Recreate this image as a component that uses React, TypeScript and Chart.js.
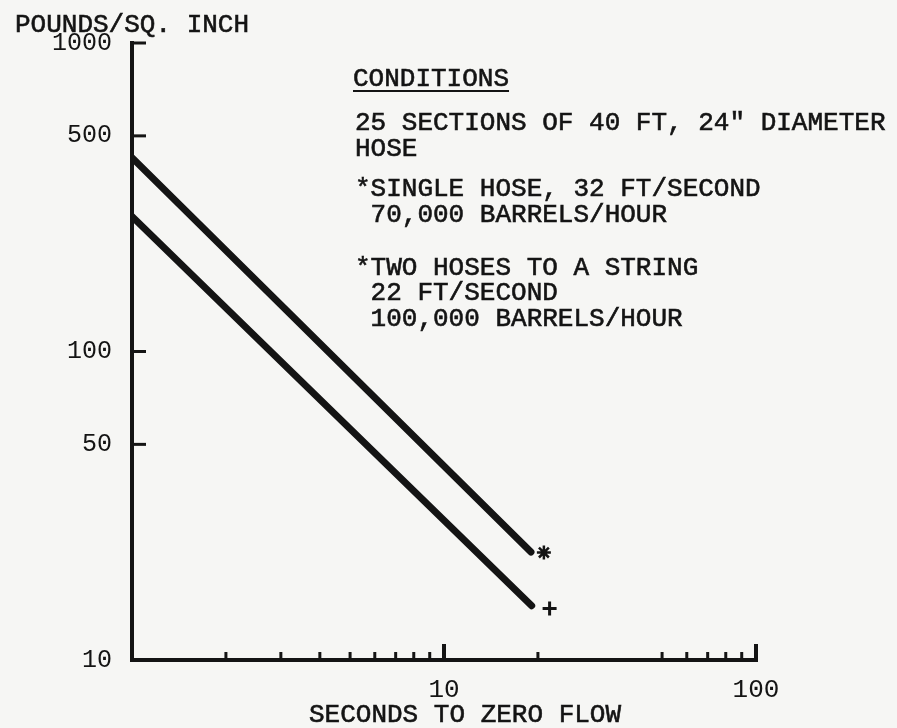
import React, { useEffect, useRef } from 'react';
import { Chart, registerables } from 'chart.js';

Chart.register(...registerables);

// ---- data (log-log) ----
const upperSeconds = [1, 19];
const upperPsi = [425, 22.4];
const lowerSeconds = [1, 19.1];
const lowerPsi = [274, 15];
const starSeconds = [20.9];
const starPsi = [22.3];
const plusSeconds = [21.8];
const plusPsi = [14.7];

const yTickValues = [10, 50, 100, 500, 1000];
const yTickMarks = [50, 100, 500, 1000];
const xLabelValues = [10, 100];
const xMinorTicks = [2, 3, 4, 5, 6, 7, 8, 9, 20, 50, 60, 70, 80, 90];
const xMajorTicks = [10, 100];

const yTitle = 'POUNDS/SQ. INCH';
const xTitle = 'SECONDS TO ZERO FLOW';
const conditionsHeading = 'CONDITIONS';
const conditionsLines = [
  '25 SECTIONS OF 40 FT, 24" DIAMETER',
  'HOSE',
  '*SINGLE HOSE, 32 FT/SECOND',
  ' 70,000 BARRELS/HOUR',
  '*TWO HOSES TO A STRING',
  ' 22 FT/SECOND',
  ' 100,000 BARRELS/HOUR',
];
const conditionsBaselines = [130, 156, 196, 222, 275, 300, 326];

const INK = '#141414';
const BG = '#f6f6f4';
const FONT = '"Liberation Mono", "DejaVu Sans Mono", monospace';

function heavyText(ctx: CanvasRenderingContext2D, s: string, x: number, y: number) {
  ctx.fillText(s, x, y);
  ctx.strokeText(s, x, y);
}

const decorPlugin = {
  id: 'decor',
  beforeDraw(chart: any) {
    const ctx = chart.ctx;
    ctx.save();
    ctx.fillStyle = BG;
    ctx.fillRect(0, 0, chart.width, chart.height);
    ctx.restore();
  },
  afterDraw(chart: any) {
    const ctx = chart.ctx;
    const xs = chart.scales.x;
    const ys = chart.scales.y;
    const left = xs.getPixelForValue(1);
    const right = xs.getPixelForValue(100);
    const top = ys.getPixelForValue(1000);
    const bottom = ys.getPixelForValue(10);
    ctx.save();
    ctx.strokeStyle = INK;
    ctx.fillStyle = INK;
    ctx.lineCap = 'square';
    ctx.lineJoin = 'miter';
    // axes
    ctx.lineWidth = 4;
    ctx.beginPath();
    ctx.moveTo(left, top);
    ctx.lineTo(left, bottom);
    ctx.lineTo(right, bottom);
    ctx.stroke();
    // y tick marks (inward)
    ctx.lineWidth = 3;
    ctx.lineCap = 'butt';
    yTickMarks.forEach((v) => {
      const py = ys.getPixelForValue(v);
      ctx.beginPath();
      ctx.moveTo(left, py);
      ctx.lineTo(left + 14, py);
      ctx.stroke();
    });
    // x tick marks (inward)
    xMinorTicks.forEach((v) => {
      const px = xs.getPixelForValue(v);
      ctx.beginPath();
      ctx.moveTo(px, bottom);
      ctx.lineTo(px, bottom - 8);
      ctx.stroke();
    });
    ctx.lineWidth = 4;
    xMajorTicks.forEach((v) => {
      const px = xs.getPixelForValue(v);
      ctx.beginPath();
      ctx.moveTo(px, bottom);
      ctx.lineTo(px, bottom - 16);
      ctx.stroke();
    });
    // titles
    ctx.font = `26px ${FONT}`;
    ctx.textAlign = 'left';
    ctx.textBaseline = 'alphabetic';
    ctx.lineWidth = 0.6;
    heavyText(ctx, yTitle, 15, 32);
    heavyText(ctx, xTitle, 309, 722);
    // conditions block
    heavyText(ctx, conditionsHeading, 353, 86);
    const w = ctx.measureText(conditionsHeading).width;
    ctx.lineWidth = 2;
    ctx.beginPath();
    ctx.moveTo(353, 91);
    ctx.lineTo(353 + w, 91);
    ctx.stroke();
    ctx.lineWidth = 0.6;
    conditionsLines.forEach((line, i) => {
      heavyText(ctx, line, 355, conditionsBaselines[i]);
    });
    ctx.restore();
  },
};

export default function App() {
  const canvasRef = useRef<HTMLCanvasElement | null>(null);

  useEffect(() => {
    document.body.style.margin = '0';
    const canvas = canvasRef.current;
    if (!canvas) return;
    const chart = new Chart(canvas, {
      type: 'scatter',
      data: {
        datasets: [
          {
            label: 'Single hose',
            data: upperSeconds.map((x, i) => ({ x, y: upperPsi[i] })),
            showLine: true,
            borderColor: INK,
            backgroundColor: INK,
            borderWidth: 7,
            borderCapStyle: 'round',
            pointRadius: 0,
            fill: false,
          },
          {
            label: 'Two hoses',
            data: lowerSeconds.map((x, i) => ({ x, y: lowerPsi[i] })),
            showLine: true,
            borderColor: INK,
            backgroundColor: INK,
            borderWidth: 7,
            borderCapStyle: 'round',
            pointRadius: 0,
            fill: false,
          },
          {
            label: 'star',
            data: starSeconds.map((x, i) => ({ x, y: starPsi[i] })),
            showLine: false,
            pointStyle: 'star',
            pointRadius: 7,
            borderWidth: 2.5,
            borderColor: INK,
            backgroundColor: INK,
          },
          {
            label: 'plus',
            data: plusSeconds.map((x, i) => ({ x, y: plusPsi[i] })),
            showLine: false,
            pointStyle: 'cross',
            pointRadius: 7,
            borderWidth: 3,
            borderColor: INK,
            backgroundColor: INK,
          },
        ],
      } as any,
      plugins: [decorPlugin],
      options: {
        animation: false,
        responsive: true,
        maintainAspectRatio: false,
        layout: { padding: { top: 43, right: 141, left: 0, bottom: 0 } },
        plugins: {
          legend: { display: false },
          tooltip: { enabled: false },
          title: { display: false },
        },
        scales: {
          x: {
            type: 'logarithmic',
            position: 'bottom',
            min: 1,
            max: 100,
            grid: { display: false, drawTicks: false },
            border: { display: false },
            ticks: {
              color: INK,
              font: { family: FONT, size: 26 },
              padding: 15,
              autoSkip: false,
              maxRotation: 0,
              callback: (v: any) => String(v),
            },
            afterBuildTicks: (s: any) => {
              s.ticks = xLabelValues.map((v) => ({ value: v }));
            },
            afterFit: (s: any) => {
              s.height = 68;
            },
          },
          y: {
            type: 'logarithmic',
            position: 'left',
            min: 10,
            max: 1000,
            grid: { display: false, drawTicks: false },
            border: { display: false },
            ticks: {
              color: INK,
              font: { family: FONT, size: 25 },
              padding: 20,
              autoSkip: false,
              callback: (v: any) => String(v),
            },
            afterBuildTicks: (s: any) => {
              s.ticks = yTickValues.map((v) => ({ value: v }));
            },
            afterFit: (s: any) => {
              s.width = 132;
            },
          },
        },
      } as any,
    });
    return () => chart.destroy();
  }, []);

  return (
    <div style={{ position: 'relative', width: 897, height: 728 }}>
      <canvas ref={canvasRef} />
    </div>
  );
}
